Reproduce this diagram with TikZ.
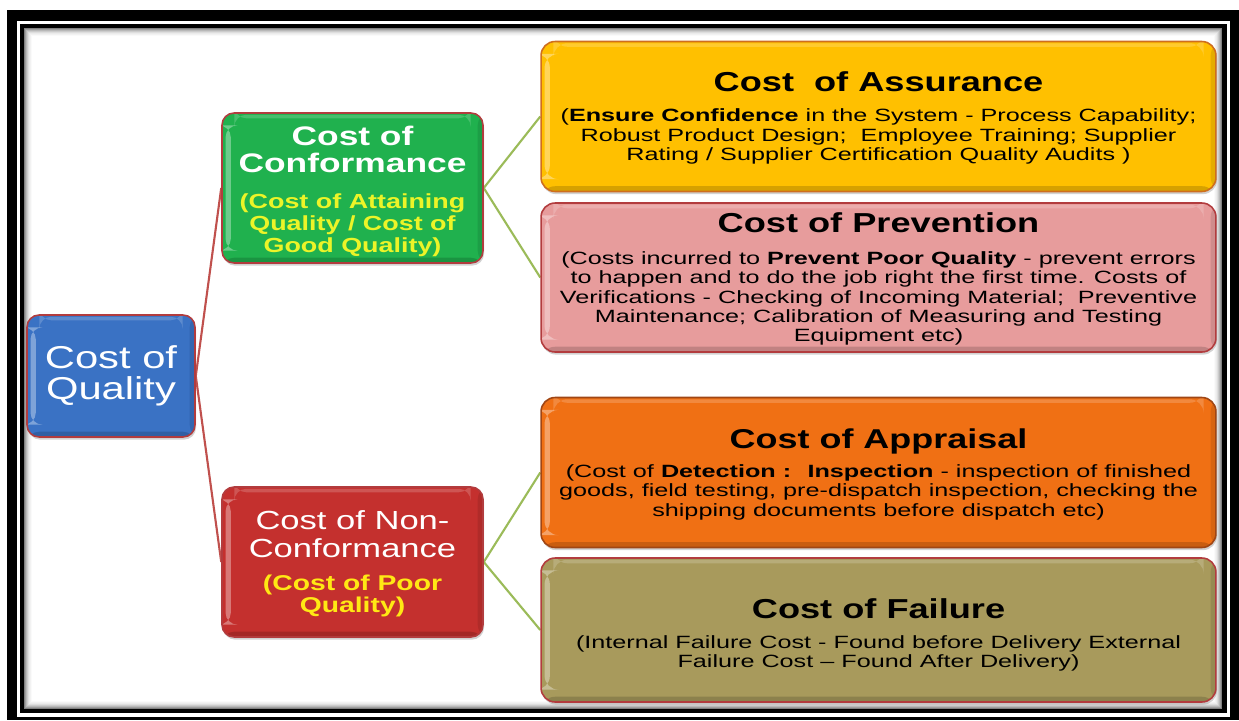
\documentclass[tikz,border=0pt]{standalone}
\usepackage{fontspec}
\setmainfont{Liberation Sans}
\newfontfamily\widesans[FakeStretch=1.32,Ligatures=TeX]{Liberation Sans}
\newfontfamily\widebody[FakeStretch=1.42,Ligatures=TeX]{Liberation Sans}
\usetikzlibrary{shadows}

\definecolor{qblue}{RGB}{58,114,196}
\definecolor{cgreen}{RGB}{32,177,78}
\definecolor{ncred}{RGB}{196,48,46}
\definecolor{ygreen}{RGB}{236,244,40}
\definecolor{yred}{RGB}{255,232,20}
\definecolor{assurgold}{RGB}{255,192,0}
\definecolor{prevpink}{RGB}{231,156,156}
\definecolor{apprange}{RGB}{240,112,20}
\definecolor{failkhaki}{RGB}{168,154,92}
\definecolor{edgered}{RGB}{178,60,62}
\definecolor{edgeorange}{RGB}{206,110,30}
\definecolor{edgebrown}{RGB}{160,70,20}
\definecolor{linkred}{RGB}{192,80,77}
\definecolor{linkgreen}{RGB}{155,187,89}

\pgfdeclarelayer{frame}
\pgfdeclarelayer{links}
\pgfsetlayers{frame,links,main}

\tikzset{
  x=0.02cm, y=-0.02cm,
  box/.style={rounded corners=0.24cm, draw=edgered, line width=0.9pt,
    inner sep=0pt,
    drop shadow={shadow xshift=0.6pt, shadow yshift=-1.5pt, opacity=0.35},
    path picture={
      \fill[white,opacity=0.35]
        ([xshift=2pt,yshift=-7pt]path picture bounding box.north west) rectangle
        ([xshift=5pt,yshift=7pt]path picture bounding box.south west);
      \fill[white,opacity=0.18]
        ([xshift=7pt,yshift=-1pt]path picture bounding box.north west) rectangle
        ([xshift=-7pt,yshift=-3pt]path picture bounding box.north east);
      \fill[black,opacity=0.16]
        (path picture bounding box.south west) rectangle
        ([yshift=3pt]path picture bounding box.south east);
      \fill[black,opacity=0.10]
        ([xshift=-3pt]path picture bounding box.north east) rectangle
        (path picture bounding box.south east);
    }},
  leftbox/.style={box, minimum width=5.22cm, minimum height=3.0cm},
  rightbox/.style={box, rounded corners=0.28cm, minimum width=13.5cm, minimum height=3.0cm},
  wtext/.style={inner sep=0pt, anchor=north, align=center, text=white},
  rtitle/.style={inner sep=0pt, anchor=base, text=black,
    font=\widesans\bfseries\fontsize{15.6}{16}\selectfont},
  rbody/.style={inner sep=0pt, anchor=north, align=center, text=black,
    font=\widebody\fontsize{10.1}{11.05}\selectfont},
  redlink/.style={draw=linkred, line width=1.2pt},
  greenlink/.style={draw=linkgreen, line width=1.2pt}
}

\begin{document}
% let tightly set lines keep their baseline distance
\lineskiplimit=-100pt\relax
\begin{tikzpicture}
\useasboundingbox (0,0) rectangle (1239,720);

% double black frame with an inner shadow
\begin{pgfonlayer}{frame}
  \fill[white] (0,0) rectangle (1239,720);
  \fill[black] (7,10) rectangle (1239,720);
  \fill[white] (17,21) rectangle (1230,717);
  \fill[black] (20,24) rectangle (1227,713);
  \fill[white] (24,28) rectangle (1222,709);
  \foreach \i/\o in {0/0.5,1/0.38,2/0.28,3/0.2,4/0.13,5/0.08,6/0.05,7/0.02}
    \draw[black, opacity=\o, line width=0.57pt]
      (24.5+\i,28.5+\i) rectangle (1221.5-\i,708.5-\i);
\end{pgfonlayer}

% root
\node[box, fill=qblue, minimum width=3.36cm, minimum height=2.44cm] (quality) at (111,376) {};
\node[wtext, font=\widesans\fontsize{18}{18.1}\selectfont]
  (qualityT) at (111,344.8) {Cost of\\Quality};

% second level
\node[leftbox, fill=cgreen] (conf) at (352.5,188) {};
\node[wtext, font=\widesans\bfseries\fontsize{15.25}{15.3}\selectfont]
  (confT) at (352.5,125.4) {Cost of\\Conformance};
\node[wtext, text=ygreen, font=\widesans\bfseries\fontsize{11.6}{12.5}\selectfont]
  (confS) at (352.5,193) {(Cost of Attaining\\Quality / Cost of\\Good Quality)};

\node[leftbox, fill=ncred] (nonconf) at (352.5,562) {};
\node[wtext, font=\widesans\fontsize{14.9}{16.4}\selectfont]
  (nonconfT) at (352.5,509.8) {Cost of Non-\\Conformance};
\node[wtext, text=yred, font=\widesans\bfseries\fontsize{12.2}{12.5}\selectfont]
  (nonconfS) at (352.5,574.3) {(Cost of Poor\\Quality)};

% third level
\node[rightbox, fill=assurgold, draw=edgeorange] (assur) at (878.5,116.5) {};
\node[rtitle] (assurT) at (878.5,91) {Cost~ of Assurance};
\node[rbody] (assurB) at (878.5,108.5)
  {(\textbf{Ensure Confidence} in the System - Process Capability;\\
   Robust Product Design;~ Employee Training; Supplier\\
   Rating / Supplier Certification Quality Audits )};

\node[rightbox, fill=prevpink, minimum height=2.98cm] (prev) at (878.5,277.5) {};
\node[rtitle] (prevT) at (878.5,232) {Cost of Prevention};
\node[rbody] (prevB) at (878.5,251)
  {(Costs incurred to \textbf{Prevent Poor Quality} - prevent errors\\
   to happen and to do the job right the first time. Costs of\\
   Verifications - Checking of Incoming Material;~ Preventive\\
   Maintenance; Calibration of Measuring and Testing\\
   Equipment etc)};

\node[rightbox, fill=apprange, draw=edgebrown] (appr) at (878.5,472.5) {};
\node[rtitle, font=\widesans\bfseries\fontsize{15.5}{16}\selectfont] (apprT) at (878.5,448) {Cost of Appraisal};
\node[rbody] (apprB) at (878.5,464)
  {(Cost of \textbf{Detection :~ Inspection} - inspection of finished\\
   goods, field testing, pre-dispatch inspection, checking the\\
   shipping documents before dispatch etc)};

\node[rightbox, fill=failkhaki, minimum height=2.88cm] (fail) at (878.5,630) {};
\node[rtitle] (failT) at (878.5,618) {Cost of Failure};
\node[rbody] (failB) at (878.5,635)
  {(Internal Failure Cost - Found before Delivery External\\
   Failure Cost – Found After Delivery)};

% connectors
\begin{pgfonlayer}{links}
  \draw[redlink] (quality.east) -- (conf.west);
  \draw[redlink] (quality.east) -- (nonconf.west);
  \draw[greenlink] (conf.east) -- (assur.west);
  \draw[greenlink] (conf.east) -- (prev.west);
  \draw[greenlink] (nonconf.east) -- (appr.west);
  \draw[greenlink] (nonconf.east) -- (fail.west);
\end{pgfonlayer}
\end{tikzpicture}
\end{document}
